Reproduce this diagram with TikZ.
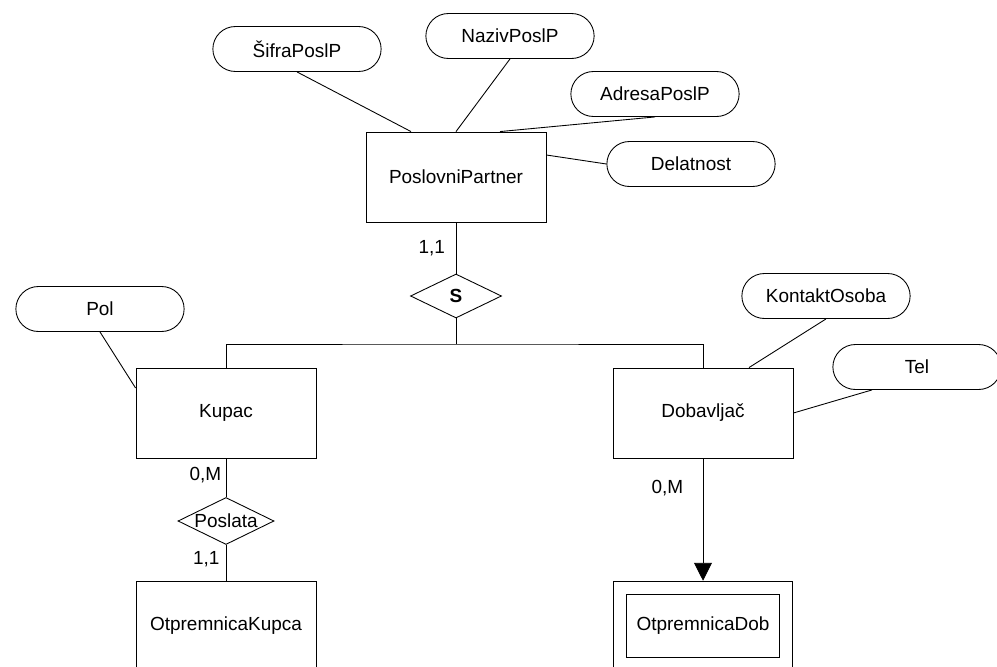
\documentclass[tikz,border=0pt]{standalone}
\usepackage{fontspec}
\setmainfont{Liberation Sans}
\usetikzlibrary{calc,shapes.geometric,shapes.misc,arrows.meta}

\begin{document}
\begin{tikzpicture}[x=0.02cm, y=-0.02cm, line width=0.5pt,
  font=\fontsize{10.8}{13}\selectfont,
  entity/.style={draw, minimum width=3.6cm, minimum height=1.8cm},
  weakent/.style={draw, double, double distance=0.25cm, outer sep=4pt,
    minimum width=3.33cm, minimum height=1.53cm},
  attr/.style={draw, rounded rectangle, minimum width=3.6cm, minimum height=0.9cm},
  rel/.style={draw, diamond, inner sep=0pt},
  card/.style={inner sep=0pt}]

% page frame (one unit = one pixel of the original, y pointing down)
\clip (0,0) rectangle (997,666);

% entities
\node[entity] (pp)    at (456,177) {PoslovniPartner};
\node[entity] (kupac) at (226,413) {Kupac};
\node[entity] (dob)   at (703,413) {Dobavljač};
\node[entity] (otkup) at (226,626) {OtpremnicaKupca};
\node[weakent] (otdob) at (703,626) {OtpremnicaDob};

% relationships
\node[rel, minimum width=1.82cm, minimum height=0.88cm] (s) at (456,296) {\textbf{S}};
\node[rel, minimum width=1.92cm, minimum height=0.94cm,
  label=center:Poslata] (poslata) at (226,521) {};

% attributes
\node[attr] (sifra)   at (297,49)  {ŠifraPoslP};
\node[attr] (naziv)   at (510,36)  {NazivPoslP};
\node[attr] (adresa)  at (655,94)  {AdresaPoslP};
\node[attr] (delat)   at (691,164) {Delatnost};
\node[attr] (pol)     at (100,309) {Pol};
\node[attr] (kontakt) at (826,296) {KontaktOsoba};
\node[attr] (tel)     at (917,367) {Tel};

% attribute lines
\draw (sifra.south) -- ($(pp.north)+(-45,0)$);
\draw (naziv.south) -- (pp.north);
\draw (adresa.south) -- ($(pp.north)+(44,0)$);
\draw (delat.west) -- ($(pp.east)+(0,-22)$);
\draw (pol.south) -- ($(kupac.west)+(0,-25)$);
\draw (kontakt.south) -- ($(dob.north)+(46,0)$);
\draw ($(tel.south)+(-45,0)$) -- (dob.east);

% specialisation
\coordinate (split) at (456,344);
\draw (pp.south) -- node[card, left=6pt] {1,1} (s.north);
\draw (s.south) -- (split);
\draw (kupac.north) |- (split) -| (dob.north);

% Kupac - Poslata - OtpremnicaKupca
\draw (kupac.south) -- node[card, pos=0.42, left=2.5pt] {0,M} (poslata.north);
\draw (poslata.south) -- node[card, pos=0.39, left=3.5pt] {1,1} (otkup.north);

% Dobavljac -> OtpremnicaDob
\draw[-{Triangle[width=10.2pt,length=10.2pt]}] (dob.south)
  -- node[card, pos=0.24, left=11pt] {0,M} (otdob.north);

\end{tikzpicture}
\end{document}
